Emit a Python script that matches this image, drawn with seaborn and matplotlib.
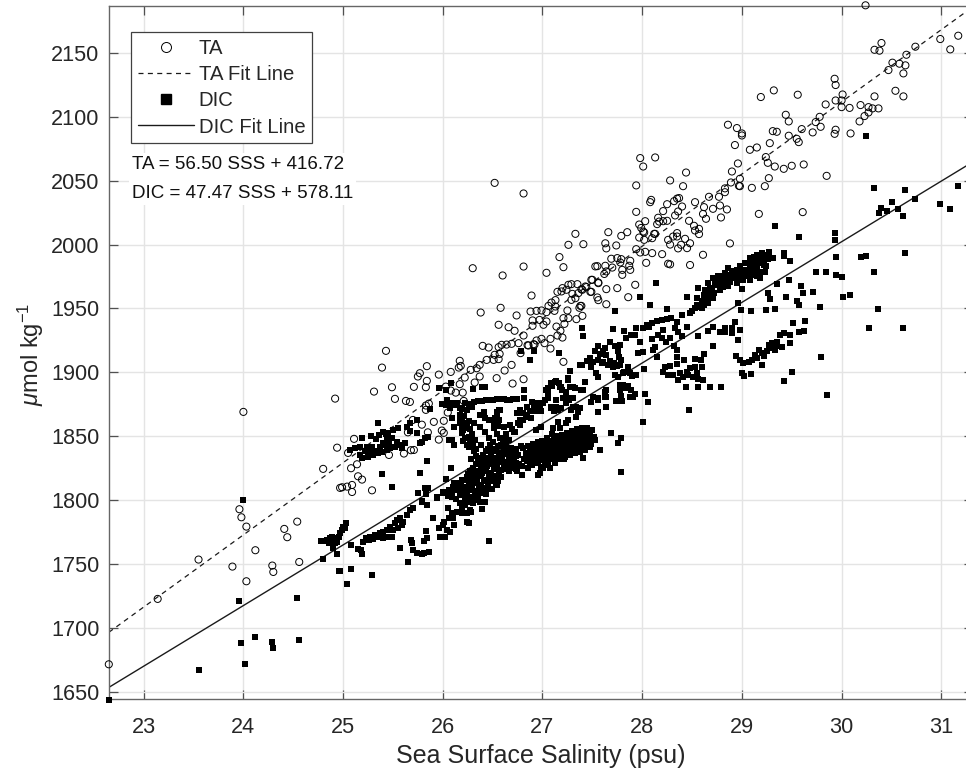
import numpy as np
import pandas as pd
import matplotlib
matplotlib.use("Agg")
import matplotlib.pyplot as plt
from matplotlib.lines import Line2D
import seaborn as sns

# ---------- data: (salinity, umol/kg) ----------
ta_low = [(22.65,1671.4),(23.14,1722.6),(23.55,1753.4),(23.89,1747.9),(23.96,1792.8),(23.98,1786.5),(24.0,1869),
 (24.03,1779.2),(24.03,1736.4),(24.12,1760.7),(24.29,1748.7),(24.3,1743.7),(24.41,1777.4),(24.44,1770.9),
 (24.54,1783.1),(24.56,1751.5),(24.8,1824.4),(24.92,1879.4),(24.94,1841),(24.97,1809.5),(24.99,1810),
 (25.04,1810.5),(25.05,1836.9),(25.08,1824.9),(25.09,1811.8),(25.09,1806.3),(25.11,1847.9),(25.14,1828),
 (25.15,1818.6),(25.19,1816),(25.29,1807.6),(25.31,1884.9),(25.39,1903.7),(25.43,1916.8),(25.46,1835.3),
 (25.49,1888.3),(25.52,1879.2),(25.61,1836.4),(25.63,1877.6),(25.65,1853),(25.67,1876.8),(25.68,1839),
 (25.7,1862.7),(25.71,1888.6),(25.71,1839.2),(25.75,1896.7),(25.77,1899.3),(25.79,1859),(25.83,1888.3),
 (25.83,1874),(25.83,1870.6),(25.84,1904.8),(25.84,1893.3),(25.85,1853),(25.86,1875.5),(25.91,1861.2),
 (25.96,1898.2),(25.96,1847.3),(25.99,1854.4),(26.01,1862),(26.01,1852.6),(26.03,1888.8),(26.05,1868.5)]
ta_mid = [(26.08,1900.3),(26.08,1885.7),(26.13,1884.1),(26.16,1903.7),(26.17,1909),(26.17,1890.7),(26.18,1905),
 (26.2,1884.1),(26.21,1877.6),(26.22,1895.9),(26.28,1901.9),(26.3,1981.5),(26.32,1892),(26.34,1903.2),
 (26.37,1905.8),(26.37,1896.7),(26.38,1946.8),(26.4,1920.7),(26.44,1909.7),(26.46,1919.4),(26.51,1909.7),
 (26.52,2048.3),(26.52,1913.7),(26.54,1895.4),(26.56,1919.7),(26.56,1910.3),(26.56,1937.2),(26.57,1914.4),(26.58,1950.5),
 (26.59,1921.5),(26.6,1975.8),(26.62,1901.4),(26.64,1921.7),(26.66,1935.3),(26.69,1922.3),(26.69,1905.8),
 (26.7,1891.2),(26.72,1932.5),(26.74,1944.5),(26.76,1922.8),(26.78,1915),(26.81,2040),(26.81,1982.8),
 (26.81,1928.8),(26.81,1894.6),(26.85,1921.2),(26.86,1921),(26.88,1947.6),(26.89,1960.1),(26.9,1940.6),
 (26.9,1936.4),(26.91,1922),(26.92,1921.7),(26.94,1948.1),(26.94,1924.9),(26.97,1941),(26.99,1948.4),
 (26.99,1926.2),(27.01,1937.2),(27.02,1922.8),(27.04,1977.9),(27.04,1947.1),(27.04,1939.8),(27.06,1952),
 (27.08,1926.2),(27.08,1918.6),(27.09,1954.6),(27.12,1948.1),(27.13,1956.5),(27.13,1951.5),(27.14,1935.8),
 (27.15,1963),(27.15,1928.8),(27.17,1990.2),(27.18,1932.5),(27.19,1963.3),(27.2,1965.9),(27.2,1927.2),
 (27.21,1982.3),(27.21,1942.4),(27.21,1908.2),(27.22,1937.9),(27.24,1964.6),(27.25,1948.4),(27.26,1999.8),
 (27.26,1968.5),(27.26,1942.4),(27.29,1969),(27.29,1956.7),(27.3,1961.4),(27.33,2008.4),(27.33,1958),
 (27.34,1941.6),(27.35,1969),(27.36,1962),(27.37,1950.5),(27.38,1952),(27.39,1965),(27.39,1952),(27.4,1964.6),
 (27.4,1944.2),(27.41,2000.3),(27.43,1967.2),(27.44,1966.7),(27.48,1963),(27.49,1972.4),(27.49,1963),
 (27.5,1972.4),(27.53,1982.9),(27.55,1983.1),(27.55,1958.6),(27.56,1970.3),(27.56,1969.8),(27.56,1956.5),
 (27.62,1977),(27.63,2001),(27.63,1983.4),(27.64,1997),(27.64,1979),(27.64,1965.1),(27.64,1953.3),
 (27.66,2009.7),(27.69,1988.9),(27.7,1982),(27.74,1999.3),(27.75,1989.4),(27.75,1965.9),(27.78,1986),
 (27.79,2006.8),(27.79,1988.6),(27.8,1980.2),(27.8,1976.3),(27.85,2009.7),(27.86,1958.8),(27.87,1983.4),
 (27.88,1987.3),(27.88,1980.2),(27.93,1968.5)]
ta_high = [(27.94,2046.3),(27.94,2025.6),(27.94,1996.4),(27.97,2015.7),(27.97,2005.5),(27.98,2067.7),(27.98,1993.8),
 (27.99,2013),(28.01,2061.1),(28.01,2010.2),(28.02,2009.5),(28.02,2003.7),(28.03,2018.3),(28.03,1994.3),
 (28.04,1985.7),(28.08,2033.2),(28.09,2035),(28.1,2005),(28.1,1993.3),(28.12,2008.4),(28.13,2068.2),
 (28.13,2008.4),(28.15,2016),(28.16,2021),(28.17,2018),(28.2,1992.5),(28.21,2026.2),(28.21,2018.3),
 (28.25,2031.6),(28.25,2018.6),(28.26,2003.7),(28.26,1985),(28.28,2050.2),(28.28,2000),(28.28,1984.5),
 (28.31,2006.3),(28.32,2034),(28.33,2022.8),(28.35,2036),(28.35,2009),(28.35,2006.3),(28.36,2025.9),
 (28.36,1997),(28.37,2036.4),(28.39,1999.8),(28.4,2029.8),(28.41,2045.7),(28.43,2004.5),(28.44,2056.4),
 (28.45,1997.2),(28.47,2018.6),(28.48,2001),(28.48,1984),(28.52,2014.7),(28.53,2033.2),(28.53,2011),
 (28.57,2012.3),(28.57,2008.2),(28.61,2024),(28.61,1992),(28.62,2029.3),(28.64,2020.2),(28.67,2037.4),
 (28.71,2028),(28.77,2037.4),(28.78,2030.6),(28.79,2021.2),(28.83,2044),(28.83,2041),(28.85,2027.5),
 (28.86,2093.8),(28.88,2000.9),(28.89,2048.6),(28.9,2057.2),(28.93,2077.9),(28.95,2091.2),(28.96,2063.5),
 (28.97,2046),(28.98,2051.5),(28.98,2045.7),(29.0,2087),(29.0,2085.4),(29.08,2074.2),(29.1,2044.4),
 (29.15,2076),(29.17,2024),(29.19,2115.5),(29.23,2045.7),(29.24,2068.5),(29.26,2064),(29.27,2052),
 (29.28,2079.4),(29.31,2088.8),(29.32,2120.7),(29.33,2061.1),(29.35,2088.3),(29.42,2059.3),(29.44,2101.6),
 (29.47,2096.4),(29.47,2085.2),(29.5,2061.7),(29.55,2082.8),(29.56,2117.3),(29.57,2080.2),(29.6,2090.4),
 (29.61,2025.4),(29.62,2062.7),(29.71,2087.8),(29.74,2095.9),(29.78,2100),(29.79,2092.2),(29.84,2109.7),
 (29.85,2053.8),(29.93,2129.8),(29.93,2086.7),(29.94,2124.9),(29.94,2112.8),(29.94,2089.9),(30.0,2112.8),
 (30.0,2107.6),(30.01,2117.5),(30.08,2107),(30.09,2087),(30.18,2096.4),(30.19,2109.2),(30.23,2100.6),
 (30.24,2187.3),(30.27,2107.6),(30.27,2103.4),(30.31,2106.6),(30.33,2152.5),(30.33,2116),(30.37,2106.6),
 (30.38,2151.8),(30.4,2157.8),(30.47,2136.6),(30.51,2142.4),(30.54,2120.4),(30.58,2141.6),(30.62,2134),
 (30.62,2116),(30.64,2140.3),(30.65,2148.6),(30.74,2154.9),(30.99,2160.9),(31.09,2152.8),(31.17,2163.5)]

dic_sparse = [(22.65,1643.4),(23.55,1666.7),(23.96,1721.3),(23.98,1687.8),(24.0,1800.1),(24.02,1671.9),(24.12,1692.5),
 (24.29,1688.6),(24.3,1683.9),(24.54,1723.6),(24.56,1690.4),(24.8,1753.9),(24.94,1757.5),(24.96,1744.7),
 (24.97,1744.7),(25.04,1734.3),(25.08,1745.8),(25.29,1741),(25.39,1820.7),(25.49,1810.5),(25.57,1762.5),
 (25.65,1751.5),(25.75,1805.3),(25.77,1821.5),(25.84,1830.4),(25.85,1809.2),(25.83,1804.8),(25.79,1799.6),
 (25.84,1796.2),(25.9,1786.2),(26.46,1767.7),(26.08,1825.1),(26.03,1816.8),(27.79,1822.2),(27.69,1852.3),
 (27.79,1848.3),(27.76,1844.4),(27.58,1839.2)]
dic_a = [(24.78,1767.7),(24.82,1767.7),(24.84,1768.7),(24.86,1766.1),(24.87,1770),(24.89,1767.4),(24.89,1771.4),
 (24.9,1764.8),(24.9,1762.2),(24.92,1766.1),(24.94,1770),(24.94,1767.4),(24.96,1771.4),(24.97,1773.9),
 (24.99,1776.6),(25.0,1779.2),(25.02,1777.9),(25.03,1782.3)]
dic_b = [(25.08,1764.6),(25.15,1761.4),(25.18,1760.9),(25.19,1757.8),(25.2,1767.4),(25.23,1770),(25.26,1768.7),
 (25.27,1771.4),(25.3,1769.3),(25.32,1772.7),(25.35,1771.4),(25.37,1774),(25.4,1775.3),(25.4,1770),
 (25.44,1776.6),(25.46,1771.4),(25.47,1779.2),(25.49,1771.4),(25.5,1776.6),(25.52,1781.8),(25.54,1784.4),
 (25.55,1777.9),(25.57,1785.7),(25.59,1780.5),(25.6,1783.1),(25.64,1788.3),(25.67,1792.2),(25.7,1793.5),
 (25.68,1768.7),(25.69,1766.7),(25.7,1760.9),(25.74,1758.3),(25.79,1757.8),(25.81,1758.3),(25.86,1759.1),
 (25.81,1768),(25.84,1770),(25.83,1776)]
dic_c = [(25.07,1839.2),(25.12,1840.5),(25.17,1841.8),(25.19,1848.4),(25.17,1835.3),(25.19,1832.7),(25.24,1841.8),
 (25.29,1841.8),(25.25,1834),(25.3,1835.3),(25.35,1836.6),(25.35,1860.1),(25.39,1837.9),(25.44,1839.2),
 (25.47,1840.5),(25.4,1844.5),(25.37,1841.8),(25.54,1845.8),(25.57,1843.2),(25.62,1844.5),(25.59,1840.5),
 (25.52,1841.8),(25.28,1850.2),(25.4,1853.6),(25.45,1852.3),(25.5,1854.9),(25.55,1856.2),(25.49,1848.4),
 (25.44,1848.4),(25.64,1857.5),(25.67,1860.1),(25.74,1852.3),(25.67,1854.4),(25.79,1845.8),(25.82,1848.4),
 (25.85,1849.7),(25.77,1844.5),(25.74,1862.7),(25.22,1838),(25.27,1838),(25.32,1838),(25.42,1843),(25.46,1845),
 (25.33,1848),(25.36,1851),(25.43,1852)]
dic_tracks = [(25.96,1887.5),(26.03,1886.2),(26.08,1891.5),(26.3,1887.3),(26.39,1888.6),(26.42,1888.6),(25.87,1871.1),
 (25.99,1875.3),(26.04,1878.4),(26.03,1874.5),(26.09,1875.8),(26.12,1874.5),(26.07,1871.9),(26.09,1864),
 (26.11,1857.5),(26.09,1847.1),(26.11,1843.2),(26.06,1847.1),(26.22,1875.8),(26.31,1877.1),(26.39,1877.9),
 (26.47,1878.4),(26.54,1878.9),(26.61,1878.9),(26.67,1878.4),(26.74,1879.4),(26.81,1879.7),(26.81,1886.2),
 (26.87,1909.7),(26.78,1917),(26.91,1916.3),(27.17,1915),(27.4,1905.8),(27.28,1901.4),(27.26,1895.4),
 (27.31,1888.8),(26.17,1866.7),(26.19,1861.4),(26.24,1870.6),(26.29,1873.2),(26.22,1856.2),(26.19,1852.3),
 (26.26,1849.7),(26.31,1860.1),(26.37,1866.7),(26.41,1869.3),(26.46,1862.7),(26.51,1860.1),(26.54,1869.3),
 (26.57,1870.6),(26.56,1862.7),(26.61,1857.5),(26.67,1858.8),(26.77,1870.6),(26.84,1873.2),(26.89,1877.1),
 (26.94,1874.5),(27.01,1875.8),(27.04,1886.2),(27.09,1891.5),(27.14,1892.8),(27.19,1888.8),(27.24,1884.9),
 (27.31,1879.7),(27.09,1871.9),(27.14,1873.2),(26.88,1864),(26.83,1865.3),(26.77,1862.7),(26.71,1853.6),
 (26.17,1865.3),(26.19,1857.5),(26.22,1848.3),(26.26,1841.8),(26.27,1845.7),(26.32,1847),(26.56,1870.5),
 (26.52,1864),(26.51,1856.2),(26.57,1848.3),(26.66,1847),(26.72,1853.6),(26.77,1858.8),(26.84,1866.6),
 (26.91,1873.2),(26.97,1873.2),(26.37,1857.5),(26.42,1853.6),(26.46,1848.3),(26.41,1869.2),(26.42,1864),
 (27.06,1887.5),(27.13,1892.7),(27.18,1888.8),(27.06,1879.7),(27.09,1873.2),(27.16,1870.5),(27.24,1875.8),
 (27.24,1881),(27.29,1879.7),(27.34,1873.2),(27.38,1871.8),(27.26,1894),(27.28,1888.8),(27.33,1887.5),
 (27.41,1886.2),(27.29,1870.5),(27.26,1862.7),(27.34,1865.3),(27.16,1861.4),(27.24,1860.1),(27.11,1856.2),
 (26.99,1857.5),(27.18,1856.2),(26.93,1854.9)]
dic_tracks_more = [(26.17,1860),(26.2,1855),(26.24,1860),(26.27,1856),(26.26,1862),(26.21,1866),(26.2,1846),(26.24,1843),
 (26.3,1842),(26.33,1840),(26.29,1852),(26.14,1876),(26.17,1872),(26.19,1871),(26.26,1875.5),(26.35,1877.5),
 (26.43,1878),(26.5,1878.6),(26.58,1879),(26.64,1878.5),(26.7,1879),(26.54,1864),(26.55,1858),(26.54,1852),
 (26.6,1848),(26.63,1852),(26.69,1856),(26.75,1860),(26.8,1868),(26.87,1870),(26.92,1876),(26.97,1876),
 (26.99,1870),(26.74,1868),(26.8,1863),(26.92,1870),(27.03,1878),(27.06,1884),(27.1,1889),(27.17,1892),
 (27.2,1886),(27.21,1880),(27.19,1872),(27.14,1878),(27.12,1870),(27.27,1878),(27.31,1873),(27.36,1869)]
dic_tail = [(25.94,1801.3),(26.0,1805.3),(26.07,1806.6),(26.12,1810.5),(26.19,1815.7),(26.24,1818.3),(25.82,1809.2),
 (26.08,1824.8),(26.03,1816.5),(25.84,1796.1),(25.79,1798.7),(26.17,1797.4),(26.22,1800),(26.31,1802.6),
 (26.42,1798.2),(26.39,1793),(26.26,1781.8),(26.24,1789.6),(26.1,1785.7),(26.05,1793.5),(25.97,1771.4),
 (26.02,1771.4),(26.04,1776.6),(25.96,1777.9),(26.01,1783.1),(26.06,1785.7),(26.09,1789.6),(26.14,1790.9),
 (26.19,1789.6),(26.24,1783.1),(26.27,1792.2),(26.11,1780.5),(26.07,1775.3),(26.0,1780.5),(26.34,1802.7),
 (26.21,1805.3),(26.22,1796.2),(25.94,1802.7),(26.06,1807.9),(26.11,1813.1),(26.0,1806.6),(26.16,1808.2),
 (26.02,1806),(26.05,1803),(26.09,1806),(26.1,1810),(26.14,1808),(26.14,1813),(26.17,1805),(26.17,1812),
 (26.21,1798),(26.13,1801),(26.09,1802),(26.19,1793),(26.28,1791)]
dic_blob = [(26.2,1810),(26.19,1804),(26.22,1815.4),(26.25,1820),(26.26,1812.3),(26.24,1805.6),(26.27,1798.4),
 (26.3,1825.2),(26.31,1818.1),(26.29,1811),(26.32,1804.5),(26.3,1797.6),(26.35,1830.3),(26.36,1823),
 (26.34,1816.4),(26.36,1809.5),(26.35,1803.2),(26.4,1835.4),(26.41,1828.2),(26.39,1821.3),(26.41,1814.6),
 (26.4,1808.1),(26.45,1840.3),(26.46,1833.2),(26.44,1826.4),(26.46,1819.2),(26.45,1812.5),(26.5,1845.1),
 (26.51,1838.4),(26.49,1831.6),(26.51,1824.3),(26.5,1817.4),(26.55,1842.2),(26.56,1835.4),(26.54,1828.3),
 (26.56,1821.5),(26.55,1815.1),(26.6,1845.4),(26.61,1838.2),(26.59,1832.3),(26.61,1825.6),(26.65,1840.2),
 (26.66,1834.3),(26.64,1828.5),(26.66,1822.4),(26.7,1838.3),(26.71,1832.4),(26.69,1827.1),(26.38,1843.4),
 (26.31,1838.6),(26.28,1832.4),(26.33,1834.2),(26.54,1811.8),(26.49,1808.4),(26.43,1804.6),(26.37,1798.2)]
dic_blob_more = [(26.18,1812),(26.23,1809),(26.23,1816),(26.23,1802),(26.27,1823),(26.27,1816),(26.27,1808),(26.27,1802),
 (26.33,1828),(26.33,1821),(26.33,1813),(26.33,1807),(26.33,1800),(26.38,1833),(26.38,1826),(26.38,1818.5),
 (26.38,1812),(26.38,1805.5),(26.43,1838),(26.43,1830.5),(26.43,1823),(26.43,1816),(26.43,1809.5),(26.47,1843),
 (26.48,1836),(26.48,1828.5),(26.48,1821.5),(26.48,1815),(26.53,1840),(26.53,1833),(26.53,1825.5),(26.53,1819),
 (26.53,1813.5),(26.58,1843),(26.58,1836.5),(26.58,1830),(26.58,1823.5),(26.58,1818),(26.63,1843),(26.63,1836),
 (26.63,1830),(26.63,1824.5),(26.68,1841),(26.68,1835.5),(26.68,1829.5),(26.68,1825),(26.73,1840),(26.73,1834.5),
 (26.73,1829),(26.73,1824.5)]
dic_band = [(26.75,1835.2),(26.76,1828.3),(26.74,1822.4),(26.8,1840.4),(26.81,1832.2),(26.79,1826.3),(26.79,1819.6),
 (26.85,1842.3),(26.86,1836.2),(26.84,1830.4),(26.85,1825.2),(26.9,1843.6),(26.91,1838.2),(26.89,1832.3),
 (26.89,1827.5),(26.95,1845.2),(26.96,1840.3),(26.94,1834.4),(26.95,1829.2),(27.0,1846.2),(27.01,1841.4),
 (26.99,1836.2),(27.0,1831.2),(27.05,1848.3),(27.06,1843.2),(27.04,1838.1),(27.05,1833.4),(27.1,1851.4),
 (27.11,1845.6),(27.09,1840.2),(27.1,1835.2),(27.15,1850.2),(27.16,1844.3),(27.14,1839.5),(27.15,1834.6),
 (27.2,1851.1),(27.21,1845.4),(27.19,1840.4),(27.2,1835.1),(27.25,1852.3),(27.26,1846.2),(27.24,1841.4),
 (27.25,1836.3),(27.3,1854.1),(27.31,1848.3),(27.29,1842.6),(27.3,1837.4),(27.35,1855.4),(27.36,1849.2),
 (27.34,1843.7),(27.35,1838.2),(27.4,1856.3),(27.41,1850.4),(27.39,1844.2),(27.4,1839.1),(27.45,1856.1),
 (27.46,1850.2),(27.44,1844.6),(27.5,1854.9),(27.52,1849.2),(27.53,1847),(27.49,1843.6),(26.97,1820.9),
 (26.95,1819.6),(27.01,1824.8),(27.08,1824.8),(27.13,1828.8),(27.06,1827.5),(26.99,1826.1),(27.22,1832.2),
 (27.41,1832.7)]
dic_band_more = [(26.78,1842),(26.83,1837),(26.83,1833),(26.87,1839.5),(26.87,1833.5),(26.87,1828.5),(26.92,1841),
 (26.92,1835.5),(26.92,1830),(26.97,1842.5),(26.97,1837.5),(26.97,1832),(27.03,1844),(27.03,1839),(27.03,1834),
 (27.03,1830),(27.07,1846),(27.08,1841),(27.08,1836.5),(27.08,1832),(27.12,1849),(27.13,1843),(27.13,1838),
 (27.13,1833.5),(27.18,1848),(27.18,1842.5),(27.18,1837.5),(27.18,1832.5),(27.23,1849),(27.23,1844),(27.23,1839),
 (27.23,1834),(27.28,1851),(27.28,1845),(27.28,1840),(27.28,1835.5),(27.33,1852),(27.33,1846.5),(27.33,1841),
 (27.33,1836.5),(27.38,1853),(27.38,1847.5),(27.38,1842),(27.38,1837.5),(27.43,1855),(27.43,1849),(27.43,1843),
 (27.43,1839),(27.48,1853),(27.48,1847),(27.48,1841.5)]
dic_right_low = [(27.38,1905.8),(27.48,1911),(27.51,1908.4),(27.56,1909.7),(27.61,1908.4),(27.66,1905.8),(27.71,1904.5),
 (27.78,1905.8),(27.79,1909.7),(27.49,1904.5),(27.54,1899.3),(27.56,1896.2),(27.73,1898),(27.86,1904.5),
 (27.88,1899.3),(27.94,1897.5),(27.81,1899.3),(27.76,1896.7),(27.43,1892.2),(27.39,1886.2),(28.02,1902.4),
 (27.81,1890.2),(27.86,1889.6),(27.89,1886.2),(27.93,1883.1),(27.88,1880.5),(27.78,1886.2),(27.79,1881.8),
 (27.8,1877.6),(27.74,1877.6),(27.64,1886.2),(27.64,1881),(27.49,1877.1),(27.51,1881),(27.56,1879.7),
 (27.64,1873.2),(27.56,1868.8),(28.03,1882.8),(28.06,1877.1),(28.01,1861.2),(27.38,1872.4),(27.56,1878.4),
 (27.49,1877),(27.63,1884.9),(27.63,1881),(27.56,1869.2),(27.78,1890.1),(27.84,1887.5),(27.91,1881),
 (27.45,1909),(27.58,1914),(27.6,1907),(27.68,1909),(27.72,1907),(27.75,1905),(27.82,1900),(27.9,1897),(27.77,1912)]
dic_ridge_low = [(27.98,1958.6),(28.08,1952.6),(27.73,1948.1),(28.25,1949.7),(27.4,1934.5),(27.41,1928.5),(27.71,1934),
 (27.82,1932.5),(28.01,1934.5),(28.05,1937.2),(28.1,1938.5),(28.15,1939.8),(28.2,1941.1),(28.25,1941.6),
 (28.29,1942.4),(28.07,1935.8),(27.94,1934.5),(27.89,1929.3),(27.84,1926.7),(27.78,1921.5),(27.73,1920.7),
 (27.68,1924.1),(27.63,1918.9),(27.56,1920.2),(27.53,1916.3),(27.64,1913.7),(27.61,1916.3),(27.76,1916.3),
 (27.93,1929.3),(27.98,1924.1),(27.96,1915),(28.01,1915.7),(28.11,1917.6),(28.13,1919.7),(28.14,1970.3),
 (28.45,1959.3),(28.4,1944.5),(28.35,1939),(28.45,1935.8),(28.33,1934.5),(28.36,1931.9),(28.4,1928.5),
 (28.56,1928.5),(28.66,1932.7),(28.71,1935.8),(28.78,1931.9),(28.83,1934.5),(28.83,1931.4),(28.9,1934.5),
 (28.9,1930.6),(28.98,1933.2),(28.93,1939.2),(28.96,1925.4),(28.71,1920.2),(28.62,1914.4),(28.16,1929.3),
 (28.2,1926.7),(28.28,1926.7),(28.24,1924.1),(28.21,1933.2),(28.1,1926.2),(28.32,1920.2),(28.35,1917.1),
 (28.15,1911.8),(28.35,1911.8),(28.42,1909.7),(28.53,1910.3),(28.59,1909.7),(28.6,1904.5),(28.21,1900.6),
 (28.23,1904.5),(28.28,1905),(28.35,1906.6),(28.26,1898),(28.31,1898),(28.36,1894.1),(28.38,1899.3),
 (28.45,1900.6),(28.48,1903.2),(28.53,1904.5),(28.55,1899.3),(28.56,1894.6),(28.61,1893.6),(28.44,1888.8),
 (28.56,1888.8),(28.68,1888.8),(28.79,1888.8),(28.41,1896.7),(28.46,1898),(28.51,1896.7),(28.47,1870.6)]
dic_ridge_high = [(28.48,1946.3),(28.53,1950.2),(28.58,1951),(28.55,1958),(28.63,1964.6),(28.66,1969.8),(28.71,1973.7),
 (28.76,1975),(28.83,1977.6),(28.86,1981.5),(28.95,1980.2),(29.03,1985.5),(29.08,1989.4),(29.15,1992),
 (29.2,1993.3),(29.27,1994.1),(29.31,1989.4),(29.23,1978.9),(29.18,1973.7),(29.08,1972.4),(29.01,1972.4),
 (28.95,1969.8),(28.86,1967.2),(28.78,1964.6),(28.71,1958),(28.66,1954.1),(28.6,1950.2),(28.56,1965.9),
 (28.62,1960.7),(28.7,1965.9),(28.76,1968.5),(28.83,1971.1),(28.9,1973.7),(28.96,1976.3),(29.05,1980.2),
 (29.11,1982.8),(29.2,1985.5),(29.17,1978.9),(29.1,1976.3),(29.23,1989.4),(29.13,1986.8),(29.06,1985.5),
 (28.78,1972.4),(28.65,1958),(28.73,1969),(28.68,1961.4),(28.8,1968.2),(28.88,1976.2),(28.93,1974.2),
 (29.0,1977.6),(29.14,1979.4),(29.18,1989.2),(29.22,1984.2),(29.26,1988.4),(28.5,1948),(28.55,1953),(28.6,1956),
 (28.62,1953),(28.65,1962),(28.68,1965),(28.72,1962),(28.73,1972),(28.75,1972),(28.79,1975),(28.81,1967),
 (28.85,1972),(28.85,1976),(28.88,1971),(28.9,1979),(28.93,1978),(28.97,1972),(28.98,1983),(29.0,1980),
 (29.02,1975),(29.05,1975),(29.08,1981),(29.1,1985),(29.12,1978),(29.15,1983),(29.17,1987),(29.2,1990),
 (29.15,1975),(29.23,1992),(29.24,1983),(29.27,1990),(29.12,1990),(29.08,1985)]
dic_right = [(29.33,2014.7),(29.57,2006.3),(29.93,2009),(29.93,2003.2),(29.42,1993.3),(29.42,1990.7),(29.48,1987.5),
 (29.94,1990.2),(30.19,1989.9),(30.24,1990.7),(30.64,1993.6),(30.33,1978.7),(29.74,1978.9),(29.84,1978.9),
 (29.94,1976.3),(30.0,1974.5),(29.47,1972.4),(29.35,1969),(29.0,1965.1),(28.96,1954.6),(29.59,1967.2),
 (29.61,1962.2),(29.71,1962.7),(29.26,1961.9),(29.28,1957.5),(29.44,1958.8),(29.55,1956.2),(29.57,1952.6),
 (30.01,1958.8),(30.08,1960.7),(29.78,1951),(30.37,1949.7),(28.99,1948.4),(29.09,1948.1),(29.24,1948.4),
 (29.33,1949.4),(30.27,1934.5),(30.62,1934.5),(28.94,1912.4),(28.98,1909.7),(29.01,1907.1),(29.0,1899.3),
 (29.02,1897.2),(29.09,1898.5),(29.2,1905.6),(29.07,1908.4),(29.1,1909.7),(29.13,1913.7),(29.17,1917.6),
 (29.2,1915),(29.25,1916.3),(29.27,1921.5),(29.3,1918.9),(29.35,1924.1),(29.38,1929.3),(29.33,1917.6),
 (29.4,1919.7),(29.48,1923.3),(29.48,1929.3),(29.51,1938.5),(29.57,1931.4),(29.62,1932.7),(29.63,1939.8),
 (29.42,1930.6),(29.22,1912.4),(29.15,1911),(29.3,1923.3),(29.35,1920.2),(29.79,1911.6),(29.5,1900),
 (29.42,1893.3),(29.85,1882.6),(30.33,2044.1),(30.64,2042.8),(30.74,2036),(31.17,2046),(30.99,2032.1),
 (31.09,2028),(30.4,2029),(30.38,2024.6),(30.46,2026.4),(30.51,2033.2),(30.57,2027.7),(30.62,2022),
 (30.24,2085.2)]

ta_slope, ta_intercept = 56.50, 416.72
dic_slope, dic_intercept = 47.47, 578.11
fit_sss = [22.65, 31.32]
x_ticks = list(range(23, 32))
y_ticks = list(range(1650, 2151, 50))
legend_labels = ["TA", "TA Fit Line", "DIC", "DIC Fit Line"]
equation_text = "TA = 56.50 SSS + 416.72\nDIC = 47.47 SSS + 578.11"

# ---------- tables ----------
ta = pd.DataFrame(ta_low + ta_mid + ta_high, columns=["sss", "value"])
dic = pd.DataFrame(dic_sparse + dic_a + dic_b + dic_c + dic_tracks + dic_tracks_more + dic_tail + dic_blob
                   + dic_blob_more + dic_band + dic_band_more + dic_right_low + dic_ridge_low
                   + dic_ridge_high + dic_right, columns=["sss", "value"])
fit = pd.DataFrame({"sss": fit_sss})
fit["ta"] = ta_slope * fit["sss"] + ta_intercept
fit["dic"] = dic_slope * fit["sss"] + dic_intercept

# ---------- style ----------
sns.set_theme(style="whitegrid")
plt.rcParams["font.family"] = ["Liberation Sans", "DejaVu Sans"]
plt.rcParams["mathtext.fontset"] = "custom"
plt.rcParams["mathtext.rm"] = "Liberation Sans"
plt.rcParams["mathtext.it"] = "Liberation Sans:italic"
plt.rcParams["mathtext.default"] = "regular"

W, H = 966, 772
AW, AH = 864.0, 693.6     # axes extends a little past the right image edge, as in the reference
fig = plt.figure(figsize=(W / 100, H / 100), dpi=100, facecolor="white")
ax = fig.add_axes([109 / W, 1 - 699.3 / H, AW / W, AH / H])
ax.set_facecolor("white")

dark = "#262626"
sns.lineplot(data=fit, x="sss", y="ta", ax=ax, color="#1a1a1a", lw=0.9, linestyle=(0, (4, 3.5)), legend=False, zorder=2)
sns.lineplot(data=fit, x="sss", y="dic", ax=ax, color="#1a1a1a", lw=1.0, legend=False, zorder=2)
sns.scatterplot(data=ta, x="sss", y="value", ax=ax, marker="o", s=26, facecolor="none",
                edgecolor="black", linewidth=0.7, legend=False, clip_on=False, zorder=3)
sns.scatterplot(data=dic, x="sss", y="value", ax=ax, marker="s", s=23, color="black",
                edgecolor="black", linewidth=0, legend=False, clip_on=False, zorder=4)

ax.set_xlim(22.652, 22.652 + AW / 99.7)
ax.set_ylim(1644, 2187)
ax.set_xticks(x_ticks)
ax.set_yticks(y_ticks)
ax.grid(True, color="#e4e4e4", lw=1.0)
ax.set_axisbelow(True)
ax.tick_params(axis="both", which="major", direction="in", length=6.5, width=0.9, color="#505050",
               labelsize=15.6, labelcolor=dark, top=True, right=True, left=True, bottom=True)
ax.tick_params(axis="x", pad=13)
ax.tick_params(axis="y", pad=7)
for s in ax.spines.values():
    s.set_color("#666666")
    s.set_linewidth(1.0)
ax.set_xlabel("Sea Surface Salinity (psu)", fontsize=18, color=dark)
ax.xaxis.set_label_coords((541 - 109) / AW, (699.3 - 744) / AH)
ax.set_ylabel(r"$\mathit{\mu}$mol kg$^{-1}$", fontsize=17, color=dark)
ax.yaxis.set_label_coords((46 - 109) / AW, 1 - (354 - 5.7) / AH)

handles = [
    Line2D([], [], marker="o", ls="none", mfc="none", mec="black", ms=7.2, mew=0.7),
    Line2D([], [], color="#1a1a1a", lw=0.9, ls=(0, (4, 3.5))),
    Line2D([], [], marker="s", ls="none", color="black", ms=7),
    Line2D([], [], color="#1a1a1a", lw=1.0),
]
leg = ax.legend(handles, legend_labels, loc="upper left",
                bbox_to_anchor=((131 - 109) / AW, 1 - (32 - 5.7) / AH),
                borderaxespad=0, fontsize=14.6, frameon=True, fancybox=False, framealpha=1,
                edgecolor="#404040", facecolor="white", borderpad=0.33, labelspacing=0.36,
                handlelength=2.8, handletextpad=0.2, labelcolor=dark)
leg.get_frame().set_linewidth(0.9)
leg.set_zorder(6)

ax.text((132 - 109) / AW, 1 - (179 - 5.7) / AH, equation_text, transform=ax.transAxes,
        fontsize=13.5, color="#111111", va="center", ha="left", zorder=7, linespacing=1.95,
        bbox=dict(facecolor="white", edgecolor="none", pad=2))

fig.savefig("out.png", dpi=100)
